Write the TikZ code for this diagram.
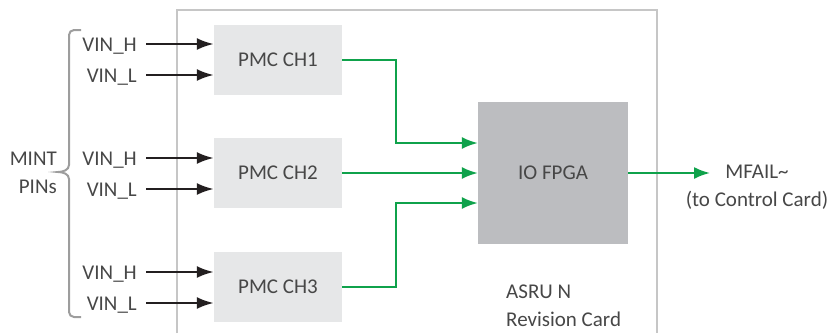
\documentclass[tikz,border=0pt]{standalone}
\usepackage{fontspec}
\setmainfont{Carlito}
\usetikzlibrary{arrows.meta,positioning}
\definecolor{ink}{HTML}{231F20}
\definecolor{textgray}{HTML}{474747}
\definecolor{pmcfill}{HTML}{E6E7E8}
\definecolor{fpgafill}{HTML}{BCBDC0}
\definecolor{cardline}{HTML}{C6C6C6}
\definecolor{bracegray}{HTML}{9D9D9D}
\definecolor{sig}{HTML}{0FA24B}
\tikzset{
  every node/.style={font=\fontsize{21}{28}\selectfont, text=textgray},
  pmcbox/.style={fill=pmcfill, minimum width=128pt, minimum height=70pt, inner sep=0pt},
  fpgabox/.style={fill=fpgafill, minimum width=150pt, minimum height=142pt, inner sep=0pt},
  pinlabel/.style={anchor=east, inner sep=0pt, text height=14pt, text depth=0pt},
  plainlabel/.style={inner sep=0pt},
  inarrow/.style={-{Latex[length=17pt,width=12pt]}, line width=2.4pt, draw=ink},
  greenarrow/.style={-{Latex[length=16pt,width=12pt]}, line width=2pt, draw=sig},
  cardedge/.style={draw=cardline, line width=1.3pt},
  brace/.style={draw=bracegray, line width=2pt},
}
\begin{document}
\begin{tikzpicture}[x=1pt,y=-1pt]
\useasboundingbox (0,0) rectangle (830,333);
% card outline, open at the bottom
\draw[cardedge] (177,333) -- (177,10) -- (657,10) -- (657,333);

\node[pmcbox] (ch1) at (278,60) {PMC CH1};
\node[pmcbox] (ch2) at (278,173) {PMC CH2};
\node[pmcbox] (ch3) at (278,287) {PMC CH3};
\node[fpgabox] (fpga) at (553,173) {IO FPGA};

% pin inputs
\foreach \c/\y in {1/44,2/158,3/272} {
  \node[pinlabel] (vh\c) at (137,\y) {VIN\_H};
  \node[pinlabel] (vl\c) at (137,\y+31) {VIN\_L};
  \draw[inarrow] ([xshift=9pt]vh\c.east) -- (vh\c.east -| ch\c.west);
  \draw[inarrow] ([xshift=9pt]vl\c.east) -- (vl\c.east -| ch\c.west);
}

\coordinate (bus) at (396,173);
\draw[greenarrow] (ch1.east) -| ([yshift=30pt]fpga.west -| bus) -- ([yshift=30pt]fpga.west);
\draw[greenarrow] (ch2.east) -- (fpga.west);
\draw[greenarrow] (ch3.east) -| ([yshift=-30pt]fpga.west -| bus) -- ([yshift=-30pt]fpga.west);

\coordinate (out) at (710,173);
\draw[greenarrow] (fpga.east) -- (out);
\node[plainlabel, align=center] (mfail) at (757,187) {MFAIL\textasciitilde\\(to Control Card)};

\node[plainlabel, align=left, anchor=north west] (card) at (506,285) {ASRU N\\Revision Card};

% MINT pins brace
\draw[brace] (81,30) -- (74,30) arc[start angle=90, end angle=180, radius=5pt]
  -- (69,165) .. controls (69,170) and (63,172) .. (58,172)
  .. controls (63,172) and (69,174) .. (69,179)
  -- (69,312) arc[start angle=180, end angle=270, radius=5pt] -- (81,317);
\node[plainlabel, align=right, anchor=east] (mint) at (57,173) {MINT\\PINs};
\end{tikzpicture}
\end{document}
